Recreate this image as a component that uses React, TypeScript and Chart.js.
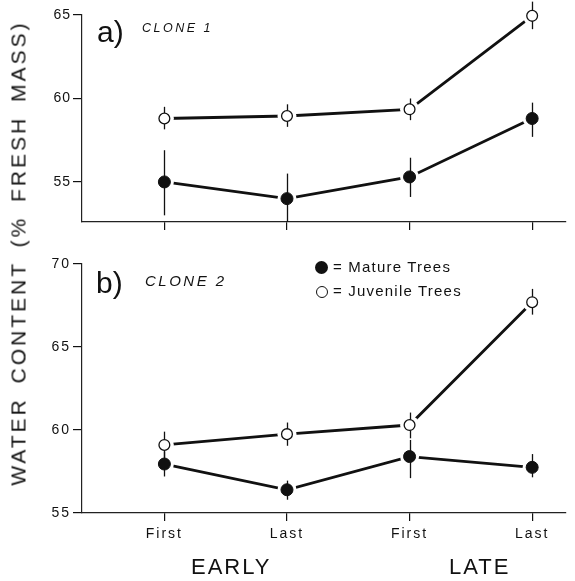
import React, { useEffect, useRef } from "react";
import { Chart, registerables } from "chart.js";

Chart.register(...registerables);

// ---------- data ----------
const stages = ["First", "Last", "First", "Last"];
const stagePositions = [1, 2, 3, 4];
const groupLabels = ["EARLY", "LATE"];
const yTicksA = [55, 60, 65];
const yTicksB = [55, 60, 65, 70];

const clone1Mature = [55.0, 54.0, 55.3, 58.8];
const clone1MatureLow = [53.0, 52.6, 54.1, 57.7];
const clone1MatureHigh = [56.9, 55.5, 56.45, 59.75];
const clone1Juvenile = [58.8, 58.95, 59.35, 64.95];
const clone1JuvenileLow = [58.15, 58.3, 58.7, 64.15];
const clone1JuvenileHigh = [59.5, 59.65, 60.0, 65.8];

const clone2Mature = [57.95, 56.4, 58.4, 57.75];
const clone2MatureLow = [57.2, 55.8, 57.1, 57.15];
const clone2MatureHigh = [58.7, 56.95, 59.4, 58.55];
const clone2Juvenile = [59.1, 59.75, 60.3, 67.7];
const clone2JuvenileLow = [58.3, 59.05, 59.5, 66.95];
const clone2JuvenileHigh = [59.9, 60.45, 61.05, 68.5];

const FONT = "'Liberation Sans', Arial, sans-serif";
const INK = "#111";

// ---------- plugins ----------
const errorBarPlugin = {
  id: "errorBars",
  beforeDatasetsDraw(chart: any) {
    chart.$errDone = false;
  },
  beforeDatasetDraw(chart: any, args: any, opts: any) {
    const ds = chart.data.datasets[args.index];
    if (ds.role !== "marker" || chart.$errDone) return;
    chart.$errDone = true;
    const ctx = chart.ctx;
    const xs = chart.scales.x;
    const ys = chart.scales.y;
    ctx.save();
    ctx.strokeStyle = INK;
    ctx.lineWidth = 1.3;
    const bars = opts.bars || [];
    for (let b = 0; b < bars.length; b++) {
      const low = bars[b].low;
      const high = bars[b].high;
      for (let i = 0; i < low.length; i++) {
        const px = Math.round(xs.getPixelForValue(stagePositions[i])) + 0.5;
        ctx.beginPath();
        ctx.moveTo(px, ys.getPixelForValue(low[i]));
        ctx.lineTo(px, ys.getPixelForValue(high[i]));
        ctx.stroke();
      }
    }
    ctx.restore();
  },
};

const spacingPlugin = {
  id: "letterSpacing",
  beforeDraw(chart: any, _args: any, opts: any) {
    (chart.ctx as any).letterSpacing = opts.value || "0px";
  },
};

function pts(vals: number[]) {
  return vals.map((v, i) => ({ x: stagePositions[i], y: v }));
}

function makeChart(
  canvas: HTMLCanvasElement,
  cfg: {
    mature: number[];
    matureLow: number[];
    matureHigh: number[];
    juvenile: number[];
    juvenileLow: number[];
    juvenileHigh: number[];
    yMin: number;
    yMax: number;
    yTicks: number[];
    showXLabels: boolean;
    padTop: number;
    xHeight: number;
    spacing: string;
  }
) {
  const ring = {
    role: "ring",
    borderColor: INK,
    borderWidth: 2.8,
    pointRadius: 9.5,
    pointHoverRadius: 9.5,
    pointBackgroundColor: "#fff",
    pointBorderColor: "#fff",
    pointBorderWidth: 0,
    order: 2,
    clip: false,
    tension: 0,
  };
  return new Chart(canvas, {
    type: "line",
    data: {
      datasets: [
        { ...ring, label: "Mature Trees", data: pts(cfg.mature) } as any,
        { ...ring, label: "Juvenile Trees", data: pts(cfg.juvenile) } as any,
        {
          role: "marker",
          label: "Mature Trees",
          data: pts(cfg.mature),
          showLine: false,
          pointRadius: 6,
          pointBackgroundColor: INK,
          pointBorderColor: INK,
          pointBorderWidth: 1,
          order: 1,
          clip: false,
        } as any,
        {
          role: "marker",
          label: "Juvenile Trees",
          data: pts(cfg.juvenile),
          showLine: false,
          pointRadius: 5.4,
          pointBackgroundColor: "#fff",
          pointBorderColor: INK,
          pointBorderWidth: 1.3,
          order: 1,
          clip: false,
        } as any,
      ],
    },
    options: {
      responsive: false,
      animation: false,
      events: [],
      layout: { padding: { top: cfg.padTop, left: 0, right: 0, bottom: 0 } },
      scales: {
        x: {
          type: "linear",
          min: 0.328,
          max: 4.272,
          afterBuildTicks: (s: any) => {
            s.ticks = stagePositions.map((v) => ({ value: v }));
          },
          afterFit: (s: any) => {
            s.height = cfg.xHeight;
          },
          grid: {
            drawOnChartArea: false,
            drawTicks: true,
            tickLength: 8,
            color: INK,
            lineWidth: 1.2,
          },
          border: { display: true, color: "#222", width: 1.2 },
          ticks: {
            autoSkip: false,
            maxRotation: 0,
            padding: 5,
            color: INK,
            font: { family: FONT, size: 14 },
            callback: (_v: any, i: number) => (cfg.showXLabels ? stages[i] : ""),
          },
        },
        y: {
          type: "linear",
          min: cfg.yMin,
          max: cfg.yMax,
          afterBuildTicks: (s: any) => {
            s.ticks = cfg.yTicks.map((v) => ({ value: v }));
          },
          afterFit: (s: any) => {
            s.width = 82;
          },
          grid: {
            drawOnChartArea: false,
            drawTicks: true,
            tickLength: 9,
            color: INK,
            lineWidth: 1.2,
          },
          border: { display: true, color: "#222", width: 1.2 },
          ticks: {
            padding: 2,
            color: INK,
            font: { family: FONT, size: 14 },
          },
        },
      },
      plugins: {
        legend: { display: false },
        tooltip: { enabled: false },
        errorBars: {
          bars: [
            { low: cfg.matureLow, high: cfg.matureHigh },
            { low: cfg.juvenileLow, high: cfg.juvenileHigh },
          ],
        },
        letterSpacing: { value: cfg.spacing },
      } as any,
    },
    plugins: [errorBarPlugin, spacingPlugin],
  } as any);
}

const abs = (s: React.CSSProperties): React.CSSProperties => ({
  position: "absolute",
  whiteSpace: "nowrap",
  margin: 0,
  ...s,
});

export default function App() {
  const refA = useRef<HTMLCanvasElement>(null);
  const refB = useRef<HTMLCanvasElement>(null);

  useEffect(() => {
    const a = makeChart(refA.current!, {
      mature: clone1Mature,
      matureLow: clone1MatureLow,
      matureHigh: clone1MatureHigh,
      juvenile: clone1Juvenile,
      juvenileLow: clone1JuvenileLow,
      juvenileHigh: clone1JuvenileHigh,
      yMin: 52.6,
      yMax: 65,
      yTicks: yTicksA,
      showXLabels: false,
      padTop: 15,
      xHeight: 18,
      spacing: "1px",
    });
    const b = makeChart(refB.current!, {
      mature: clone2Mature,
      matureLow: clone2MatureLow,
      matureHigh: clone2MatureHigh,
      juvenile: clone2Juvenile,
      juvenileLow: clone2JuvenileLow,
      juvenileHigh: clone2JuvenileHigh,
      yMin: 55,
      yMax: 70,
      yTicks: yTicksB,
      showXLabels: true,
      padTop: 24,
      xHeight: 68,
      spacing: "2px",
    });
    return () => {
      a.destroy();
      b.destroy();
    };
  }, []);

  return (
    <div
      style={{
        position: "absolute",
        left: 0,
        top: 0,
        width: 575,
        height: 581,
        background: "#fff",
        overflow: "hidden",
        fontFamily: FONT,
        color: INK,
      }}
    >
      <canvas ref={refA} width={575} height={240} style={{ position: "absolute", left: 0, top: 0 }} />
      <canvas ref={refB} width={575} height={341} style={{ position: "absolute", left: 0, top: 240 }} />

      {/* shared y-axis title */}
      <div
        style={abs({
          left: 18,
          top: 253,
          fontSize: 21,
          lineHeight: "21px",
          letterSpacing: 3,
          wordSpacing: 5,
          transform: "translate(-50%, -50%) rotate(-90deg)",
        })}
      >
        WATER CONTENT (% FRESH MASS)
      </div>

      {/* panel labels */}
      <div style={abs({ left: 97, top: 16.6, fontSize: 30, lineHeight: "30px" })}>a)</div>
      <div style={abs({ left: 142, top: 22.4, fontSize: 12.5, lineHeight: "12.5px", fontStyle: "italic", letterSpacing: 2.5 })}>
        CLONE 1
      </div>
      <div style={abs({ left: 96, top: 267.6, fontSize: 30, lineHeight: "30px" })}>b)</div>
      <div style={abs({ left: 145, top: 273, fontSize: 15, lineHeight: "15px", fontStyle: "italic", letterSpacing: 2.5 })}>
        CLONE 2
      </div>

      {/* legend */}
      <div style={abs({ left: 315, top: 261, width: 13, height: 13, borderRadius: "50%", background: INK })} />
      <div
        style={abs({
          left: 315.5,
          top: 285.5,
          width: 10,
          height: 10,
          borderRadius: "50%",
          background: "#fff",
          border: `1.3px solid ${INK}`,
        })}
      />
      <div style={abs({ left: 333, top: 259, fontSize: 15, lineHeight: "15px", letterSpacing: 1.2 })}>= Mature Trees</div>
      <div style={abs({ left: 333, top: 283, fontSize: 15, lineHeight: "15px", letterSpacing: 1.2 })}>= Juvenile Trees</div>

      {/* period group labels */}
      <div style={abs({ left: 191, top: 556, fontSize: 22, lineHeight: "22px", letterSpacing: 2 })}>{groupLabels[0]}</div>
      <div style={abs({ left: 449, top: 556, fontSize: 22, lineHeight: "22px", letterSpacing: 2 })}>{groupLabels[1]}</div>
    </div>
  );
}
